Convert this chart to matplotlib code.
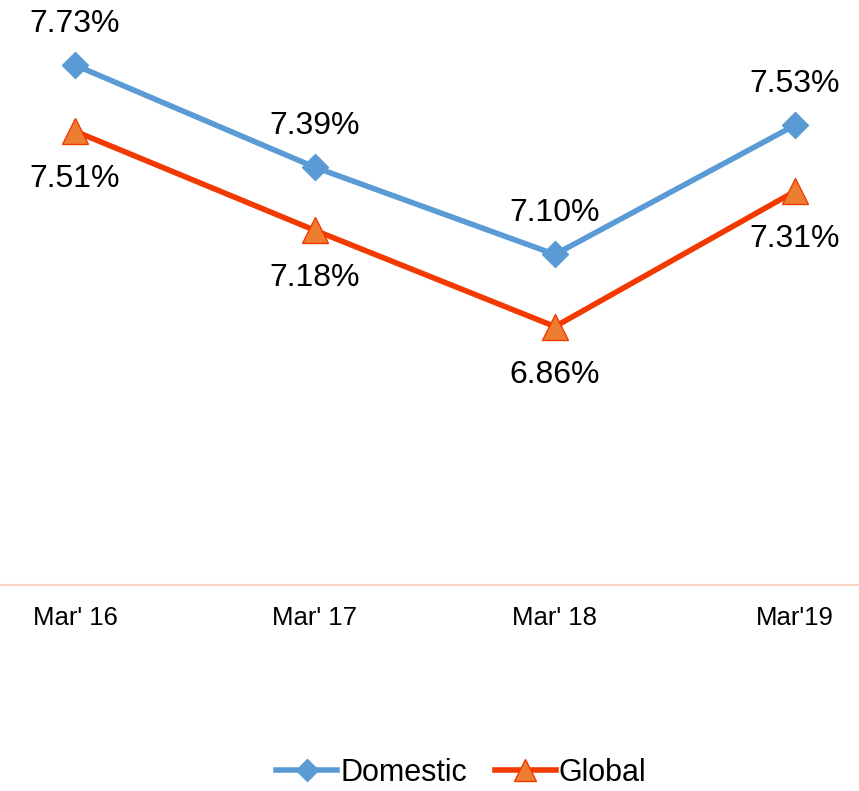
import matplotlib.pyplot as plt

plt.rcParams['font.family'] = ['Liberation Sans', 'DejaVu Sans']

categories = ["Mar' 16", "Mar' 17", "Mar' 18", "Mar'19"]
domestic = [7.73, 7.39, 7.10, 7.53]
global_ = [7.51, 7.18, 6.86, 7.31]

fig = plt.figure(figsize=(8.59, 7.91), dpi=100)
ax = fig.add_axes([0, 0.2604, 1, 0.7396])

x = list(range(len(categories)))
ax.plot(x, domestic, color='#5b9bd5', lw=4, marker='D', ms=13.5,
        mfc='#5b9bd5', mec='#5b9bd5', mew=1, label='Domestic')
ax.plot(x, global_, color='#f23a00', lw=4, marker='^', ms=19,
        mfc='#ed7d31', mec='#f23a00', mew=1, label='Global')

for xi, v in zip(x, domestic):
    ax.annotate(f'{v:.2f}%', (xi, v), xytext=(0, 41), textcoords='offset pixels',
                ha='center', va='center', fontsize=23)
for xi, v in zip(x, global_):
    ax.annotate(f'{v:.2f}%', (xi, v), xytext=(0, -48), textcoords='offset pixels',
                ha='center', va='center', fontsize=23)

ax.set_xlim(-0.3125, 3.2667)
ax.set_ylim(6.0, 7.73 + 65 / 300)
ax.set_yticks([])
ax.set_xticks(x)
ax.set_xticklabels(categories, fontsize=18.5)
ax.tick_params(axis='x', length=0, pad=15)
for s in ['top', 'left', 'right']:
    ax.spines[s].set_visible(False)
ax.spines['bottom'].set_color('#fcd5c7')
ax.spines['bottom'].set_linewidth(1.5)

fig.legend(loc='center', bbox_to_anchor=(0.537, 1 - 773 / 791), ncol=2, frameon=False,
           fontsize=22, handlelength=2.0, columnspacing=0.9, handletextpad=0.1,
           markerscale=0.85)

fig.savefig('out.png', dpi=100)
